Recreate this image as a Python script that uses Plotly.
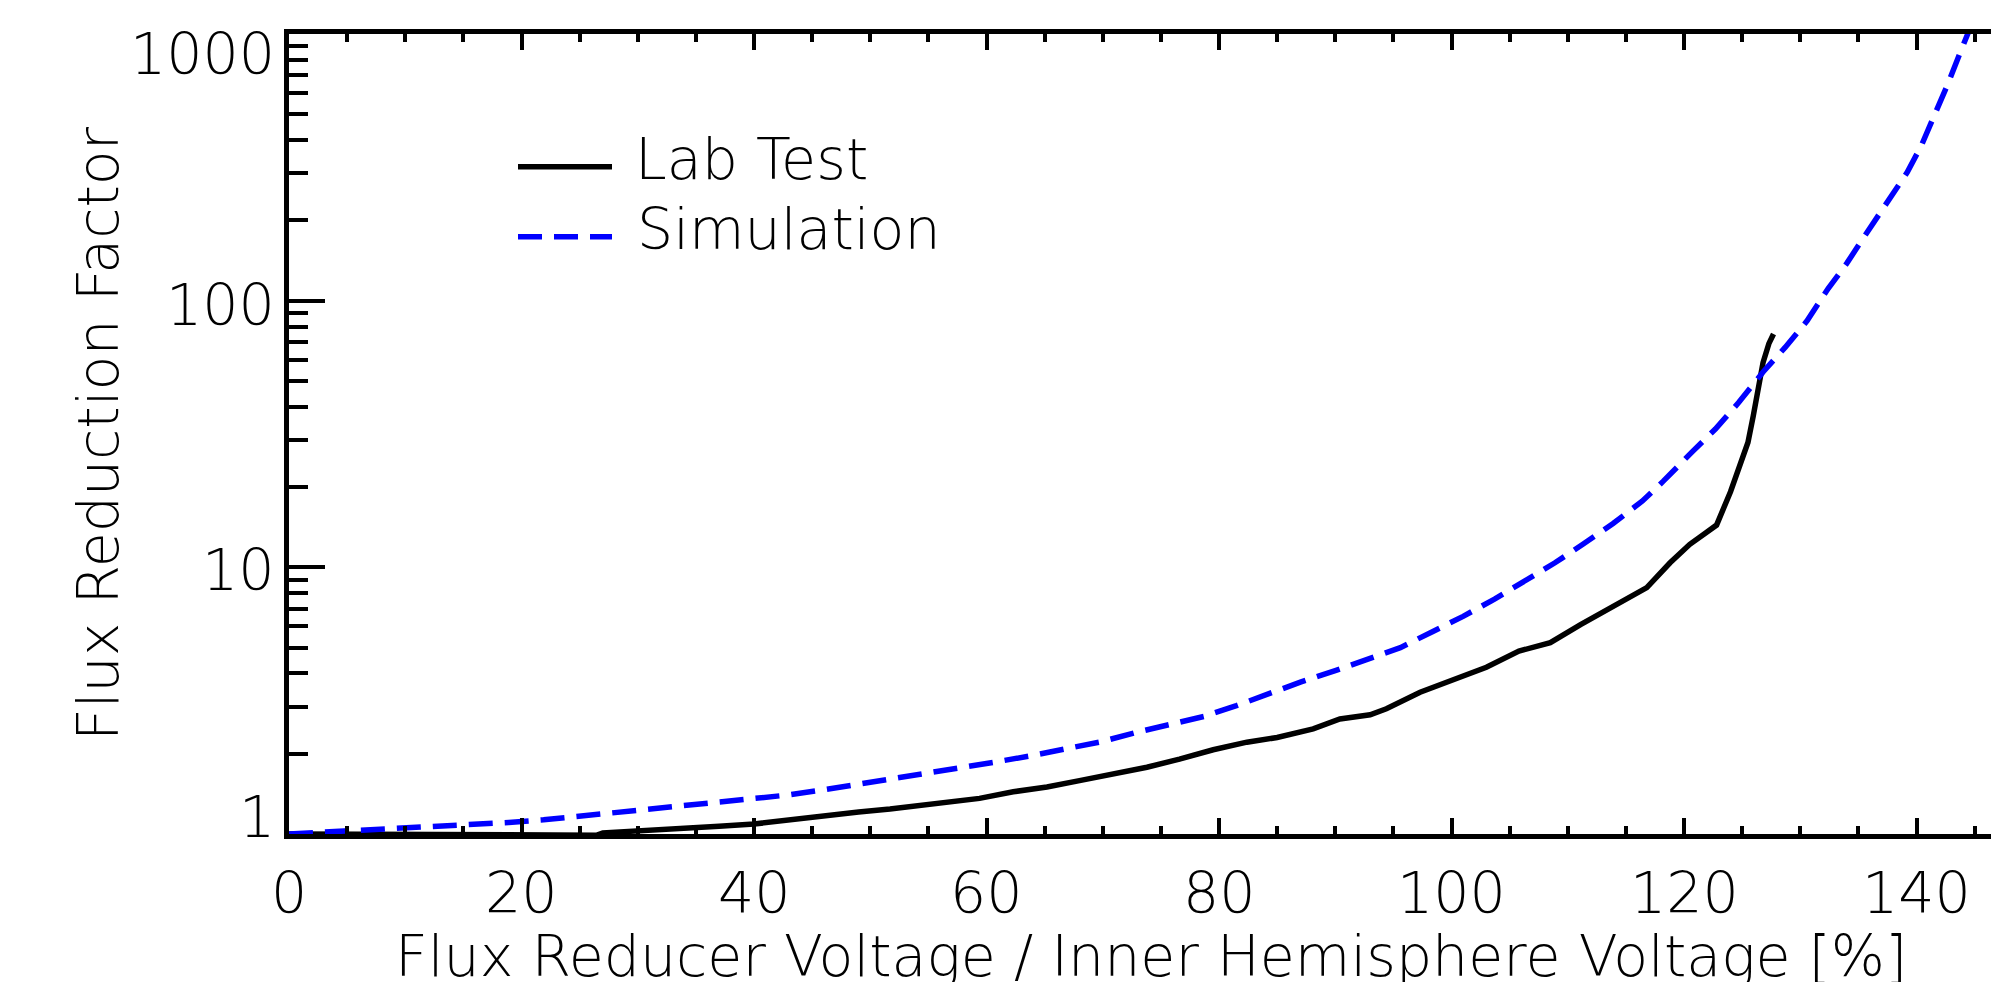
import math
import plotly.graph_objects as go

# ---------------- data ----------------
lab_x = [0, 5, 10, 15, 20, 23, 26.5, 27, 31, 34, 37, 40, 42.2, 45.7, 49.0, 51.7, 54.3,
         56.6, 59.4, 62.3, 65.2, 68.0, 70.9, 73.8, 76.6, 79.5, 82.4, 85.0, 88.1, 90.4,
         93.0, 94.4, 97.3, 100.2, 103.0, 105.8, 108.5, 111.1, 113.9, 116.8, 118.8, 120.5,
         121.8, 122.8, 124.0, 124.8, 125.5, 125.96, 126.4, 126.8, 127.3, 127.7]
lab_y = [1.00, 1.00, 1.00, 1.00, 1.00, 0.99, 0.99, 1.01, 1.03, 1.05, 1.07, 1.09, 1.12, 1.17,
         1.21, 1.24, 1.28, 1.31, 1.36, 1.44, 1.50, 1.585, 1.68, 1.78, 1.91, 2.07, 2.21, 2.30,
         2.48, 2.70, 2.80, 2.95, 3.40, 3.81, 4.22, 4.85, 5.22, 6.10, 7.10, 8.40, 10.4, 12.2,
         13.4, 14.4, 19.2, 24.1, 29.4, 37.0, 46.6, 58.6, 69.0, 75.0]

sim_x = [0, 3.7, 6.8, 9.7, 12.8, 15.9, 18.9, 21.9, 24.9, 28.0, 30.9, 33.9, 36.8, 39.7,
         42.9, 45.8, 48.8, 52.0, 54.9, 57.9, 60.7, 63.7, 66.9, 69.9, 72.8, 75.8, 78.7,
         81.5, 84.4, 87.0, 90.0, 92.8, 95.6, 98.4, 101.0, 103.7, 106.3, 108.9, 111.3,
         113.9, 116.4, 118.2, 120.7, 122.7, 124.7, 126.8, 128.7, 130.6, 132.4, 134.0,
         135.7, 137.4, 139.2, 140.4, 141.6, 142.7, 143.7, 144.6]
sim_y = [1.00, 1.02, 1.035, 1.045, 1.065, 1.09, 1.105, 1.13, 1.165, 1.19, 1.23, 1.27, 1.31,
         1.35, 1.40, 1.46, 1.53, 1.61, 1.68, 1.78, 1.86, 1.96, 2.08, 2.22, 2.40, 2.57, 2.76,
         3.03, 3.38, 3.71, 4.10, 4.50, 5.00, 5.75, 6.55, 7.60, 8.90, 10.4, 12.2, 14.6, 17.7,
         21.0, 27.1, 33.0, 41.5, 54.0, 66.8, 84.2, 111, 138, 179, 233, 303, 380, 500, 650,
         840, 1050]

x_ticks = [0, 20, 40, 60, 80, 100, 120, 140]
y_ticks = [1, 10, 100, 1000]
y_minor = [m * d for d in (1, 10, 100) for m in range(2, 10)]

series_names = ["Lab Test", "Simulation"]
x_title = "Flux Reducer Voltage / Inner Hemisphere Voltage [%]"
y_title = "Flux Reduction Factor"

# ---------------- styling ----------------
FONT = "DejaVu Sans"
FS = 57
FONT_D = dict(family=FONT, size=FS, color="black", weight=200)
W, H = 1991, 982
L, R, T, B = 289, 0, 34, 148
PW, PH = W - L - R, H - T - B
DASH = "24px,12px"

fig = go.Figure()
fig.add_trace(go.Scatter(x=lab_x, y=lab_y, mode="lines", name=series_names[0],
                         line=dict(color="black", width=5.5), showlegend=False))
fig.add_trace(go.Scatter(x=sim_x, y=sim_y, mode="lines", name=series_names[1],
                         line=dict(color="#0000FF", width=5.5, dash=DASH),
                         showlegend=False))

annotations = []
# y tick labels (IDL keeps end labels inside the axis span)
y_shift = {1: 17, 10: -3, 100: -4, 1000: -20}
for v in y_ticks:
    annotations.append(dict(text=str(v), xref="paper", x=0, yref="y", y=math.log10(v),
                            xanchor="right", yanchor="middle", xshift=-12, yshift=y_shift[v],
                            showarrow=False, font=FONT_D))
# x tick labels
for v in x_ticks:
    annotations.append(dict(text=str(v), xref="x", x=v, yref="paper", y=0,
                            xanchor="center", yanchor="middle", yshift=-59,
                            showarrow=False, font=FONT_D))
# axis titles
annotations.append(dict(text=x_title, xref="paper", x=(1151 - L) / PW, yref="paper", y=0,
                        xanchor="center", yanchor="middle", yshift=-122, showarrow=False,
                        font=FONT_D))
annotations.append(dict(text=y_title, xref="paper", x=(98 - L) / PW, yref="paper", y=0.5,
                        xanchor="center", yanchor="middle", textangle=-90, showarrow=False,
                        font=FONT_D))

# legend (drawn manually to match long IDL legend samples)
leg_x0, leg_x1 = (518 - L) / PW, (612 - L) / PW
leg_rows = [(0.834, "black", "solid", 5.5), (0.7466, "#0000FF", DASH, 5.5)]
shapes = []
for (yy, col, dash, w), name in zip(leg_rows, series_names):
    shapes.append(dict(type="line", xref="paper", yref="paper", x0=leg_x0, x1=leg_x1,
                       y0=yy, y1=yy, line=dict(color=col, width=w, dash=dash)))
annotations.append(dict(text=series_names[0], xref="paper", x=(633 - L) / PW, yref="paper",
                        y=(834 - 158.5) / PH, xanchor="left", yanchor="middle",
                        showarrow=False, font=FONT_D))
annotations.append(dict(text=series_names[1], xref="paper", x=(635 - L) / PW, yref="paper",
                        y=(834 - 229) / PH, xanchor="left", yanchor="middle",
                        showarrow=False, font=FONT_D))

x_end = PW / (232.5 / 20)

fig.update_layout(
    width=W, height=H,
    margin=dict(l=L, r=R, t=T, b=B, pad=0),
    paper_bgcolor="white", plot_bgcolor="white",
    showlegend=False,
    annotations=annotations,
    shapes=shapes,
    xaxis=dict(range=[0, x_end], tickvals=x_ticks, showticklabels=False,
               ticks="inside", ticklen=16, tickwidth=4, tickcolor="black",
               minor=dict(dtick=5, tick0=0, ticks="inside", ticklen=8, tickwidth=4,
                          tickcolor="black", showgrid=False),
               showline=True, linecolor="black", linewidth=4.5, mirror="ticks",
               showgrid=False, zeroline=False),
    yaxis=dict(type="log", range=[0, 3], tickvals=y_ticks, showticklabels=False,
               ticks="inside", ticklen=36, tickwidth=4, tickcolor="black",
               minor=dict(tickvals=y_minor, ticks="inside", ticklen=19, tickwidth=4,
                          tickcolor="black", showgrid=False),
               showline=True, linecolor="black", linewidth=4.5, mirror=False,
               showgrid=False, zeroline=False),
)

fig.write_html("out.html")
